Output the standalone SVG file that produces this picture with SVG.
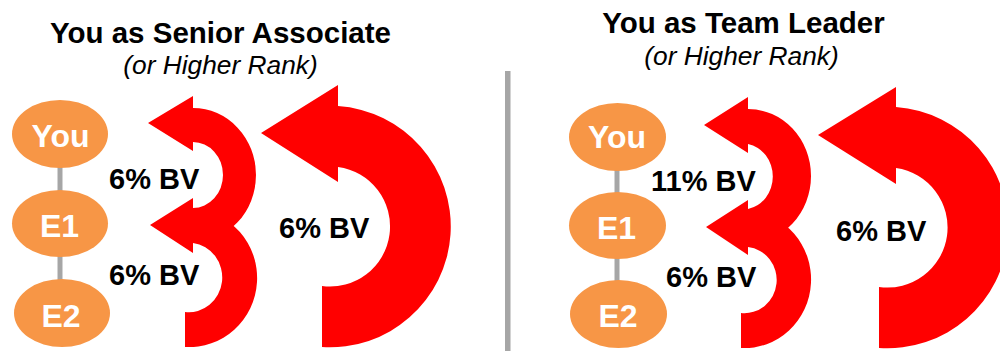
<svg xmlns="http://www.w3.org/2000/svg" width="1000" height="351" viewBox="0 0 1000 351">
  <style>
    .title { font-family: "Liberation Sans", Arial, sans-serif; font-weight: bold; font-size: 29.5px; fill: #000; text-anchor: middle; }
    .sub { font-family: "Liberation Sans", Arial, sans-serif; font-style: italic; font-size: 26.3px; fill: #000; text-anchor: middle; }
    .node ellipse { fill: #F79646; }
    .node text { font-family: "Liberation Sans", Arial, sans-serif; font-weight: bold; font-size: 32px; fill: #fff; text-anchor: middle; }
    .link { stroke: #A6A6A6; stroke-width: 5; }
    .flow { fill: #FF0000; }
    .bv { font-family: "Liberation Sans", Arial, sans-serif; font-weight: bold; font-size: 29px; fill: #000; }
  </style>

  <rect width="1000" height="351" fill="#fff"/>

  <!-- panel headings -->
  <text class="title" x="220.5" y="43">You as Senior Associate</text>
  <text class="sub" x="220.5" y="74">(or Higher Rank)</text>
  <text class="title" x="743.5" y="33">You as Team Leader</text>
  <text class="sub" x="741.5" y="65">(or Higher Rank)</text>

  <!-- divider between panels -->
  <rect x="505" y="71" width="5.5" height="280" fill="#A6A6A6"/>

  <!-- chain links -->
  <g id="connectors">
    <line class="link" x1="60" y1="166" x2="60" y2="192"/>
    <line class="link" x1="60" y1="255" x2="60" y2="281"/>
    <line class="link" x1="617" y1="169" x2="617" y2="194"/>
    <line class="link" x1="617" y1="257" x2="617" y2="282"/>
  </g>

  <!-- left chain -->
  <g id="left-you" class="node">
    <ellipse cx="60" cy="134" rx="48" ry="34"/>
    <text x="60.5" y="147">You</text>
  </g>
  <g id="left-e1" class="node">
    <ellipse cx="60" cy="223.5" rx="48" ry="33.5"/>
    <text x="59.5" y="237">E1</text>
  </g>
  <g id="left-e2" class="node">
    <ellipse cx="62" cy="313" rx="48" ry="34"/>
    <text x="61" y="327">E2</text>
  </g>

  <!-- right chain -->
  <g id="right-you" class="node">
    <ellipse cx="617.5" cy="137" rx="48.5" ry="34"/>
    <text x="617" y="148">You</text>
  </g>
  <g id="right-e1" class="node">
    <ellipse cx="617.5" cy="225.5" rx="48.5" ry="33.5"/>
    <text x="616.5" y="239">E1</text>
  </g>
  <g id="right-e2" class="node">
    <ellipse cx="618.5" cy="314" rx="48.5" ry="34"/>
    <text x="618" y="327">E2</text>
  </g>

  <!-- curved commission arrows -->
  <g id="flows">
    <!-- left panel -->
    <path class="flow" d="M193,108 A63,67 0 0 1 193,242 L193,208 A30,33 0 0 0 193,142 L193,151 L148,123 L193,96 Z"/>
    <path class="flow" d="M193,209 A68,69 0 0 1 185,347 L185,312 A33,34.5 0 0 0 193,243 L193,253 L150,225 L193,198 Z"/>
    <path class="flow" d="M338,106 A120,120 0 0 1 322,347 L322,286 A60,60 0 0 0 338,167 L338,182 L261,133 L338,85 Z"/>
    <!-- right panel -->
    <path class="flow" d="M748,109 A63,67 0 0 1 748,243 L748,209 A30,33 0 0 0 748,144 L748,153 L704,125 L748,97 Z"/>
    <path class="flow" d="M748,211 A66,68 0 0 1 741,348 L741,313 A32,33 0 0 0 748,247 L748,255 L706,227 L748,200 Z"/>
    <path class="flow" d="M896,107 A120,120 0 0 1 879,348 L879,287 A60,60 0 0 0 896,168 L896,184 L818,135 L896,87 Z"/>
  </g>

  <!-- percentage labels -->
  <g id="labels">
    <text class="bv" x="109" y="189">6% BV</text>
    <text class="bv" x="109" y="285">6% BV</text>
    <text class="bv" x="279" y="238">6% BV</text>
    <text class="bv" x="651" y="191">11% BV</text>
    <text class="bv" x="666" y="287">6% BV</text>
    <text class="bv" x="836" y="241">6% BV</text>
  </g>
</svg>
